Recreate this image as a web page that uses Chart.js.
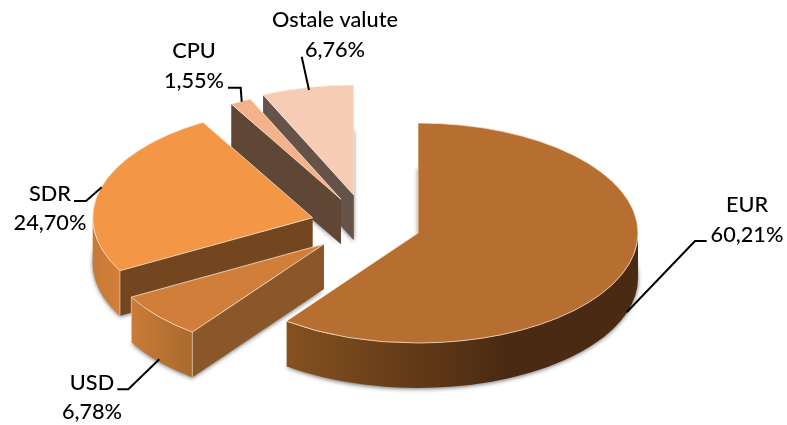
<!DOCTYPE html>
<html>
<head>
<meta charset="utf-8">
<style>html,body{margin:0;padding:0;background:#fff}#w{position:relative;width:787px;height:425px}</style>
<script src="https://cdn.jsdelivr.net/npm/chart.js@4/dist/chart.umd.min.js"></script>
</head>
<body>
<div id="w"><canvas id="c" width="787" height="425"></canvas></div>
<script>
const categories = ["EUR", "USD", "SDR", "CPU", "Ostale valute"];
const shares = [60.21, 6.78, 24.70, 1.55, 6.76];

const topColors = ["#B76E31", "#D17E3A", "#F39645", "#F4B28A", "#F7CCB5"];
const cutColors = ["#734620", "#8A5728", "#734620", "#604635", "#655248"];
const wallStops = [
  [[287, "#85511F"], [505, "#4A2A12"]],
  [[132, "#C97C37"], [193, "#A86A2F"]],
  [[94, "#C87A35"], [121, "#D27F3A"]],
  [[232, "#604635"], [341, "#604635"]],
  [[264, "#655248"], [354, "#655248"]]
];
const sliceShift = [[0, 0], [-94, 11], [-105.3, -15.3], [-77, -33.7], [-64.3, -38]];
const drawOrder = [4, 3, 2, 1, 0];
const stretchX = 2, depth = 45;

const labelPlaces = [
  [747, 212, 242], [92, 390, 419], [50, 201, 230], [194, 58, 88], [335, 27, 57]
];
const leaders = [
  [[706.7, 241], [695, 241], [626.7, 312.3]],
  [[117.3, 389.3], [128.3, 389.3], [159.3, 359.3]],
  [[74, 201], [86, 201], [101.7, 187.3]],
  [[228, 87.7], [240.7, 87.7], [241.7, 101.7]],
  [[301.7, 56.7], [309, 90]]
];

const EDGE = "rgba(255,238,222,0.7)";

function wallFill(ctx, i) {
  const s = wallStops[i];
  const g = ctx.createLinearGradient(s[0][0], 0, s[1][0], 0);
  g.addColorStop(0, s[0][1]);
  g.addColorStop(1, s[1][1]);
  return g;
}

const pie3d = {
  id: "pie3d",
  beforeDatasetsDraw(chart) {
    const ctx = chart.ctx;
    const arcs = chart.getDatasetMeta(0).data;
    drawOrder.forEach(i => {
      const arc = arcs[i];
      const cx = arc.x + sliceShift[i][0], cy = arc.y + sliceShift[i][1];
      const ry = arc.outerRadius, rx = ry * stretchX;
      const a0 = arc.startAngle, a1 = arc.endAngle;
      const pt = a => [cx + rx * Math.cos(a), cy + ry * Math.sin(a)];

      // soft shadow of the underside
      ctx.save();
      ctx.shadowColor = "rgba(0,0,0,0.55)";
      ctx.shadowBlur = 4;
      ctx.shadowOffsetX = 0;
      ctx.shadowOffsetY = 1;
      ctx.fillStyle = "#999";
      ctx.beginPath();
      ctx.moveTo(cx, cy + depth);
      ctx.ellipse(cx, cy + depth, rx, ry, 0, a0, a1);
      ctx.closePath();
      ctx.fill();
      ctx.restore();

      // visible radial cut faces
      const cuts = [];
      if (Math.cos(a0) < -0.001) cuts.push(a0);
      if (Math.cos(a1) > 0.001) cuts.push(a1);
      cuts.forEach(a => {
        const p = pt(a);
        ctx.beginPath();
        ctx.moveTo(cx, cy);
        ctx.lineTo(p[0], p[1]);
        ctx.lineTo(p[0], p[1] + depth);
        ctx.lineTo(cx, cy + depth);
        ctx.closePath();
        ctx.fillStyle = cutColors[i];
        ctx.fill();
      });

      // outer curved wall (front half only)
      const tau = Math.PI * 2;
      const norm = a => { let v = a; while (v < -Math.PI / 2 - 1e-6) v += tau; return v; };
      let lo = norm(a0), hi = lo + (a1 - a0);
      const from = Math.max(lo, 0), to = Math.min(hi, Math.PI);
      if (to > from) {
        const p = pt(from), q = pt(to);
        ctx.beginPath();
        ctx.ellipse(cx, cy, rx, ry, 0, from, to);
        ctx.lineTo(q[0], q[1] + depth);
        ctx.ellipse(cx, cy + depth, rx, ry, 0, to, from, true);
        ctx.closePath();
        ctx.fillStyle = wallFill(ctx, i);
        ctx.fill();
        // seams
        ctx.strokeStyle = "rgba(255,238,222,0.55)";
        ctx.lineWidth = 1;
        ctx.beginPath();
        if (from > 0.001) { ctx.moveTo(p[0], p[1]); ctx.lineTo(p[0], p[1] + depth); }
        if (to < Math.PI - 0.001) { ctx.moveTo(q[0], q[1]); ctx.lineTo(q[0], q[1] + depth); }
        ctx.stroke();
      }

      // top face, drawn by the library's arc element
      ctx.save();
      ctx.translate(cx, cy);
      ctx.scale(stretchX, 1);
      ctx.translate(-arc.x, -arc.y);
      arc.draw(ctx);
      ctx.restore();

      // light bevel round the top face
      ctx.beginPath();
      ctx.moveTo(cx, cy);
      ctx.ellipse(cx, cy, rx, ry, 0, a0, a1);
      ctx.closePath();
      ctx.strokeStyle = EDGE;
      ctx.lineWidth = 1;
      ctx.stroke();
    });
    return false;
  },
  afterDraw(chart) {
    const ctx = chart.ctx;
    ctx.save();
    ctx.strokeStyle = "#000";
    ctx.lineWidth = 2;
    leaders.forEach(line => {
      ctx.beginPath();
      line.forEach((p, k) => k ? ctx.lineTo(p[0], p[1]) : ctx.moveTo(p[0], p[1]));
      ctx.stroke();
    });
    ctx.fillStyle = "#000";
    ctx.font = "500 21.7px Lato";
    ctx.textAlign = "center";
    ctx.textBaseline = "alphabetic";
    categories.forEach((name, i) => {
      const pl = labelPlaces[i];
      ctx.fillText(name, pl[0], pl[1]);
      ctx.fillText(shares[i].toFixed(2).replace(".", ",") + "%", pl[0], pl[2]);
    });
    ctx.restore();
  }
};

new Chart(document.getElementById("c"), {
  type: "pie",
  data: {
    labels: categories,
    datasets: [{ data: shares, backgroundColor: topColors, borderWidth: 0 }]
  },
  options: {
    responsive: false,
    animation: false,
    layout: { padding: { left: 308, right: 259, top: 123, bottom: 82 } },
    plugins: { legend: { display: false }, tooltip: { enabled: false } }
  },
  plugins: [pie3d]
});
</script>
</body>
</html>
